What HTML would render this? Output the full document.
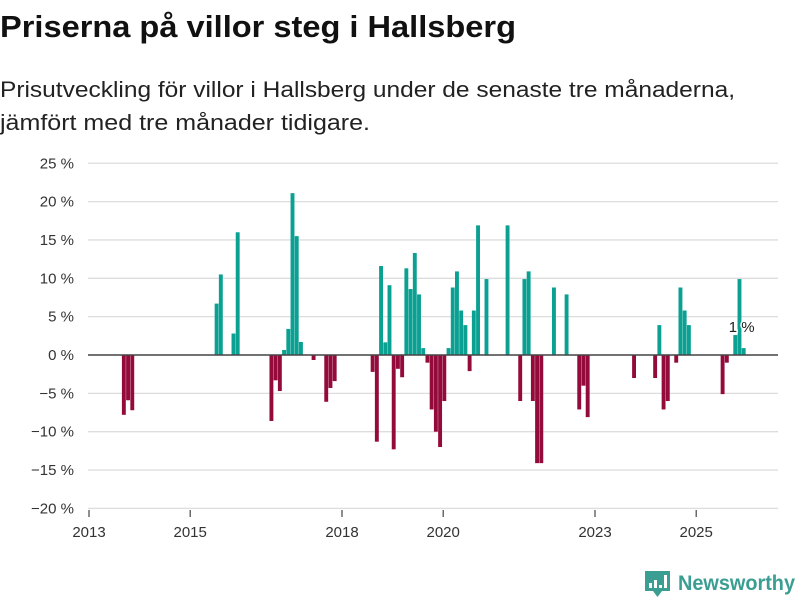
<!DOCTYPE html>
<html><head><meta charset="utf-8"><style>
body{margin:0;background:#fff;width:800px;height:600px;overflow:hidden}
svg{font-family:"Liberation Sans",sans-serif}
</style></head><body>
<svg id="chart" width="800" height="600" viewBox="0 0 800 600">
<text x="0" y="37" font-size="31" font-weight="bold" fill="#111" textLength="516" lengthAdjust="spacingAndGlyphs">Priserna på villor steg i Hallsberg</text>
<text x="0" y="97" font-size="22" fill="#222" textLength="735" lengthAdjust="spacingAndGlyphs">Prisutveckling för villor i Hallsberg under de senaste tre månaderna,</text>
<text x="0" y="130" font-size="22" fill="#222" textLength="370" lengthAdjust="spacingAndGlyphs">jämfört med tre månader tidigare.</text>
<g id="grid"></g>
<g id="bars"></g>
<g id="axes"></g>
<g>
<path d="M645 571h25v20h-8l-4.5 6-4.5-6h-8z" fill="#3a9e92"/>
<rect x="649" y="583" width="3" height="5" fill="#fff"/>
<rect x="654" y="580" width="3" height="8" fill="#fff"/>
<rect x="659" y="585" width="3" height="3" fill="#fff"/>
<rect x="664" y="575" width="3" height="13" fill="#fff"/>
<text x="678" y="590" font-size="21" font-weight="bold" fill="#3a9e92" textLength="117" lengthAdjust="spacingAndGlyphs">Newsworthy</text>
</g>
</svg>
<script>
const months = ["2013-08","2013-09","2013-10",
"2015-06","2015-07","2015-10","2015-11",
"2016-07","2016-08","2016-09","2016-10","2016-11","2016-12","2017-01","2017-02",
"2017-05","2017-08","2017-09","2017-10",
"2018-07","2018-08","2018-09","2018-10","2018-11","2018-12",
"2019-01","2019-02","2019-03","2019-04","2019-05","2019-06","2019-07","2019-08","2019-09","2019-10","2019-11","2019-12",
"2020-01","2020-02","2020-03","2020-04","2020-05","2020-06","2020-07","2020-08","2020-10",
"2021-03","2021-06","2021-07","2021-08","2021-09","2021-10","2021-11",
"2022-02","2022-05","2022-08","2022-09","2022-10",
"2023-09","2024-02","2024-03","2024-04","2024-05","2024-07","2024-08","2024-09","2024-10",
"2025-06","2025-07","2025-09","2025-10","2025-11"];
const values = [-7.8,-5.9,-7.2,
6.7,10.5,2.8,16.0,
-8.6,-3.3,-4.7,0.65,3.4,21.1,15.5,1.7,
-0.65,-6.1,-4.3,-3.4,
-2.2,-11.3,11.6,1.65,9.1,-12.3,
-1.8,-2.9,11.3,8.6,13.3,7.9,0.9,-1.0,-7.1,-10,-12,-6,
0.9,8.8,10.9,5.8,3.9,-2.1,5.8,16.9,9.9,
16.9,-6,9.9,10.9,-6,-14.1,-14.1,
8.8,7.9,-7.1,-4.0,-8.1,
-3.0,-3.0,3.9,-7.1,-6,-1.0,8.8,5.8,3.9,
-5.1,-1.0,2.6,9.9,0.9];
const yTicks = [25,20,15,10,5,0,-5,-10,-15,-20];
const xTicks = [2013,2015,2018,2020,2023,2025];
const lastLabel = "1 %";

const NS="http://www.w3.org/2000/svg";
const x = d => 89 + (d-2013)*50.6;
const y = v => 355 - v*7.67;
function mk(tag, attrs, parent){const e=document.createElementNS(NS,tag);for(const k in attrs)e.setAttribute(k,attrs[k]);parent.appendChild(e);return e;}
const grid=document.getElementById('grid'), bars=document.getElementById('bars'), axes=document.getElementById('axes');
yTicks.forEach(t=>{
  if(t!==0){const l=mk('line',{x1:88,x2:778,y1:y(t),y2:y(t),stroke:'#ddd','stroke-width':1.3},grid);
  
  }
  const tx=mk('text',{x:74,y:y(t)+5,'font-size':15,fill:'#333','text-anchor':'end'},axes);
  tx.textContent=(t<0?'\u2212'+(-t):t)+' %';
  
  
});
months.forEach((m,i)=>{
  const [yr,mo]=m.split('-').map(Number);
  const v=values[i];
  const d=yr+(mo-1+0.8)/12;
  const r=mk('rect',{x:x(d),width:3.9,y:Math.min(y(v),y(0)),height:Math.abs(y(v)-y(0)),fill:v>=0?'#0aa193':'#930a3b'},bars);
  
  
});
const z=mk('line',{x1:88,x2:778,y1:y(0),y2:y(0),stroke:'#444','stroke-width':1.6},axes);


xTicks.forEach(t=>{
  const tk=mk('line',{x1:x(t),x2:x(t),y1:510,y2:517,stroke:'#444','stroke-width':1.2},axes);
  
  
  const tx=mk('text',{x:x(t),y:537,'font-size':15,fill:'#333','text-anchor':'middle'},axes);
  tx.textContent=t;
  
  
});
{
  const [yr,mo]=months[months.length-1].split('-').map(Number);
  const lx=x(yr+(mo-1+0.8)/12);
  const lb=mk('text',{x:lx,y:332,'font-size':15,fill:'#222','text-anchor':'middle',stroke:'#fff','stroke-width':3,'paint-order':'stroke'},axes);
  lb.textContent=lastLabel;
  
  
}
</script>
</body></html>
